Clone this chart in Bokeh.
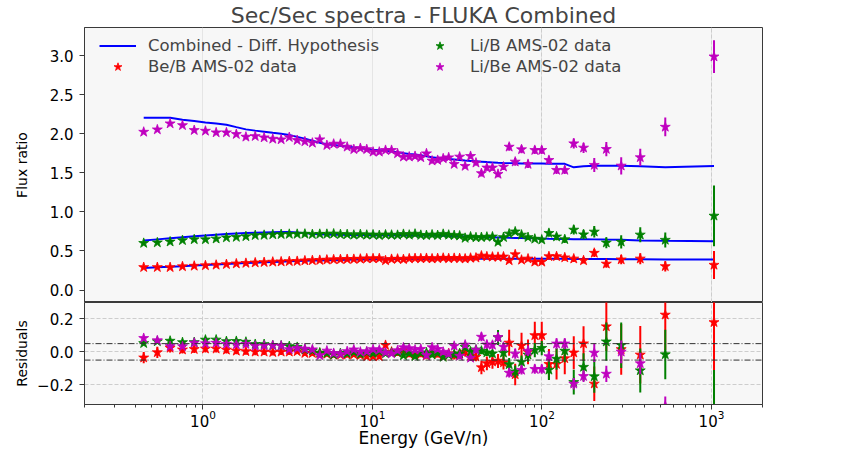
import numpy as np
from bokeh.plotting import figure
from bokeh.models import ColumnDataSource, Legend, LegendItem, FixedTicker, Span, Range1d, Grid
from bokeh.layouts import column
from bokeh.embed import file_html
from bokeh.resources import INLINE

FONT = "DejaVu Sans"

# ---------------- data ----------------
energy = [0.447, 0.538, 0.640, 0.757, 0.888, 1.034, 1.196, 1.375, 1.573, 1.792,
          2.033, 2.295, 2.581, 2.892, 3.230, 3.596, 3.993, 4.420, 4.888, 5.383,
          5.902, 6.471, 7.091, 7.762, 8.482, 9.253, 10.08, 10.97, 11.94, 12.96,
          14.06, 15.23, 16.48, 17.83, 19.28, 20.82, 22.47, 24.24, 26.14, 28.16,
          30.34, 32.68, 35.21, 37.90, 40.80, 43.92, 47.30, 51.04, 55.04, 59.29,
          64.03, 69.51, 75.76, 82.74, 90.72, 99.71, 109.9, 121.9, 136.3, 154.0,
          175.9, 203.5, 239.7, 293.4, 380.1, 533.9, 1035.0]

beb_data = [0.291, 0.291, 0.290, 0.301, 0.308, 0.314, 0.321, 0.329, 0.337, 0.344,
            0.350, 0.355, 0.360, 0.363, 0.367, 0.369, 0.376, 0.379, 0.382, 0.386,
            0.390, 0.392, 0.394, 0.395, 0.398, 0.402, 0.403, 0.404, 0.378, 0.395,
            0.398, 0.392, 0.402, 0.405, 0.403, 0.407, 0.401, 0.405, 0.410, 0.404,
            0.408, 0.405, 0.400, 0.410, 0.412, 0.438, 0.428, 0.424, 0.422, 0.426,
            0.378, 0.455, 0.385, 0.400, 0.360, 0.360, 0.430, 0.430, 0.415, 0.400,
            0.378, 0.474, 0.335, 0.389, 0.400, 0.303, 0.320]
beb_err = [0.010, 0.010, 0.008, 0.007, 0.007, 0.007, 0.007, 0.007, 0.007, 0.007,
           0.007, 0.007, 0.007, 0.007, 0.007, 0.006, 0.006, 0.006, 0.006, 0.006,
           0.006, 0.006, 0.006, 0.006, 0.006, 0.006, 0.006, 0.006, 0.006, 0.006,
           0.008, 0.008, 0.008, 0.008, 0.008, 0.008, 0.008, 0.008, 0.008, 0.008,
           0.011, 0.011, 0.011, 0.011, 0.011, 0.018, 0.018, 0.018, 0.018, 0.018,
           0.030, 0.030, 0.030, 0.030, 0.030, 0.030, 0.040, 0.040, 0.040, 0.040,
           0.040, 0.050, 0.050, 0.060, 0.070, 0.065, 0.180]
beb_model = [0.281, 0.290, 0.297, 0.305, 0.313, 0.320, 0.327, 0.333, 0.339, 0.345,
             0.350, 0.355, 0.359, 0.363, 0.367, 0.370, 0.373, 0.376, 0.379, 0.381,
             0.383, 0.385, 0.387, 0.389, 0.390, 0.391, 0.392, 0.393, 0.394, 0.395,
             0.396, 0.396, 0.397, 0.397, 0.398, 0.398, 0.399, 0.399, 0.400, 0.400,
             0.400, 0.400, 0.400, 0.400, 0.400, 0.400, 0.400, 0.400, 0.400, 0.400,
             0.400, 0.400, 0.400, 0.400, 0.400, 0.400, 0.400, 0.400, 0.399, 0.398,
             0.398, 0.397, 0.396, 0.395, 0.393, 0.391, 0.390]

lib_data = [0.600, 0.607, 0.618, 0.636, 0.647, 0.647, 0.656, 0.671, 0.677, 0.686,
            0.700, 0.703, 0.710, 0.713, 0.716, 0.716, 0.718, 0.713, 0.716, 0.716,
            0.720, 0.712, 0.712, 0.705, 0.712, 0.705, 0.708, 0.700, 0.708, 0.705,
            0.703, 0.715, 0.705, 0.718, 0.703, 0.700, 0.708, 0.700, 0.716, 0.705,
            0.700, 0.695, 0.665, 0.682, 0.672, 0.675, 0.680, 0.682, 0.614, 0.675,
            0.720, 0.747, 0.706, 0.675, 0.654, 0.643, 0.728, 0.682, 0.648, 0.770,
            0.710, 0.745, 0.605, 0.616, 0.707, 0.640, 0.949]
lib_err = [0.008, 0.008, 0.008, 0.008, 0.008, 0.008, 0.008, 0.008, 0.008, 0.008,
           0.008, 0.008, 0.008, 0.008, 0.008, 0.008, 0.008, 0.008, 0.008, 0.008,
           0.009, 0.009, 0.009, 0.009, 0.009, 0.009, 0.009, 0.009, 0.009, 0.009,
           0.009, 0.009, 0.009, 0.009, 0.009, 0.009, 0.009, 0.009, 0.009, 0.009,
           0.014, 0.014, 0.014, 0.014, 0.014, 0.014, 0.014, 0.014, 0.028, 0.028,
           0.028, 0.028, 0.028, 0.028, 0.028, 0.028, 0.045, 0.045, 0.045, 0.058,
           0.060, 0.074, 0.070, 0.085, 0.095, 0.096, 0.390]
lib_model = [0.633, 0.648, 0.662, 0.675, 0.687, 0.698, 0.708, 0.717, 0.724, 0.730,
             0.734, 0.737, 0.739, 0.741, 0.741, 0.737, 0.728, 0.718, 0.712, 0.710,
             0.708, 0.706, 0.705, 0.704, 0.703, 0.703, 0.702, 0.702, 0.701, 0.701,
             0.700, 0.700, 0.699, 0.699, 0.698, 0.697, 0.696, 0.695, 0.694, 0.692,
             0.690, 0.688, 0.685, 0.683, 0.681, 0.679, 0.677, 0.675, 0.673, 0.671,
             0.669, 0.667, 0.665, 0.663, 0.661, 0.658, 0.656, 0.654, 0.652, 0.650,
             0.650, 0.648, 0.645, 0.642, 0.635, 0.630, 0.624]

libe_data = [2.023, 2.053, 2.130, 2.108, 2.045, 2.036, 2.015, 2.015, 1.994, 1.960,
             1.968, 1.951, 1.934, 1.926, 1.955, 1.917, 1.900, 1.883, 1.926, 1.853,
             1.870, 1.870, 1.832, 1.800, 1.815, 1.800, 1.768, 1.768, 1.790, 1.790,
             1.747, 1.705, 1.705, 1.713, 1.696, 1.747, 1.654, 1.662, 1.683, 1.696,
             1.611, 1.705, 1.586, 1.713, 1.628, 1.493, 1.565, 1.565, 1.484, 1.577,
             1.832, 1.641, 1.799, 1.611, 1.790, 1.790, 1.662, 1.535, 1.535, 1.875,
             1.820, 1.599, 1.803, 1.590, 1.697, 2.087, 2.987]
libe_err = [0.025, 0.025, 0.025, 0.025, 0.025, 0.025, 0.025, 0.025, 0.025, 0.025,
            0.025, 0.025, 0.025, 0.025, 0.025, 0.025, 0.025, 0.025, 0.025, 0.025,
            0.025, 0.025, 0.025, 0.025, 0.025, 0.025, 0.025, 0.025, 0.025, 0.025,
            0.030, 0.030, 0.030, 0.030, 0.030, 0.030, 0.030, 0.030, 0.030, 0.030,
            0.030, 0.030, 0.030, 0.030, 0.030, 0.040, 0.040, 0.040, 0.040, 0.040,
            0.050, 0.050, 0.050, 0.050, 0.050, 0.050, 0.050, 0.050, 0.050, 0.065,
            0.065, 0.090, 0.090, 0.110, 0.110, 0.120, 0.210]
libe_model = [2.206, 2.206, 2.204, 2.180, 2.163, 2.145, 2.130, 2.115, 2.085, 2.056,
              2.040, 2.027, 2.012, 2.000, 1.985, 1.960, 1.935, 1.910, 1.885, 1.865,
              1.855, 1.845, 1.838, 1.825, 1.815, 1.805, 1.795, 1.790, 1.782, 1.772,
              1.762, 1.752, 1.742, 1.735, 1.725, 1.712, 1.700, 1.690, 1.682, 1.676,
              1.670, 1.663, 1.657, 1.652, 1.647, 1.642, 1.637, 1.633, 1.629, 1.626,
              1.624, 1.622, 1.620, 1.620, 1.620, 1.620, 1.617, 1.615, 1.615, 1.570,
              1.585, 1.590, 1.590, 1.590, 1.585, 1.570, 1.586]

x_ticks = [1, 10, 100, 1000]
main_y_ticks = [0.0, 0.5, 1.0, 1.5, 2.0, 2.5, 3.0]
main_y_labels = ["0.0", "0.5", "1.0", "1.5", "2.0", "2.5", "3.0"]
res_y_ticks = [-0.2, 0.0, 0.2]
res_y_labels = ["\u22120.2", "0.0", "0.2"]
res_band = [-0.05, 0.05]
main_grid_x = [100, 1000]

title_text = "Sec/Sec spectra - FLUKA Combined"
model_label = "Combined - Diff. Hypothesis"
series = [
    ("Be/B AMS-02 data", beb_data, beb_err, beb_model, "#ff0000"),
    ("Li/B AMS-02 data", lib_data, lib_err, lib_model, "#008000"),
    ("Li/Be AMS-02 data", libe_data, libe_err, libe_model, "#bf00bf"),
]

# ---------------- style helpers ----------------
AX = "#3a3a3a"
BG = "#f7f7f7"
GRID = "#cdcdcd"


def style_fig(p):
    p.background_fill_color = BG
    p.border_fill_color = "white"
    p.outline_line_color = AX
    p.outline_line_width = 1


def style_axis(ax, size="15px"):
    ax.axis_line_color = AX
    ax.major_tick_line_color = AX
    ax.minor_tick_line_color = AX
    ax.major_tick_out = 5
    ax.major_tick_in = 0
    ax.minor_tick_out = 3
    ax.minor_tick_in = 0
    ax.major_label_text_font = FONT
    ax.major_label_text_font_size = size
    ax.major_label_text_color = "black"
    ax.axis_label_text_font = FONT
    ax.axis_label_text_font_style = "normal"
    ax.axis_label_text_color = "black"


x_range = Range1d(0.2, 2000)

# ---------------- main panel ----------------
MAIN_H = 275
p1 = figure(frame_width=678, frame_height=MAIN_H, x_axis_type="log", x_axis_location=None,
            x_range=x_range, y_range=Range1d(-0.16, 3.36),
            min_border_left=84, min_border_right=84, min_border_bottom=0, min_border_top=0,
            output_backend="svg", toolbar_location=None, title=title_text)
style_fig(p1)
p1.title.text_font = FONT
p1.title.text_font_size = "22px"
p1.title.text_font_style = "normal"
p1.title.align = "center"
p1.title.standoff = 0

p1.ygrid.visible = False
p1.add_layout(Grid(dimension=0, ticker=FixedTicker(ticks=main_grid_x),
                   grid_line_color=GRID, grid_line_dash="4 2", grid_line_width=1))

yax = p1.yaxis[0]
style_axis(yax)
yax.ticker = FixedTicker(ticks=main_y_ticks)
yax.major_label_overrides = dict(zip(main_y_ticks, main_y_labels))
yax.minor_tick_line_color = None
yax.major_label_standoff = 6
yax.axis_label = "Flux ratio"
yax.axis_label_text_font_size = "14px"
yax.axis_label_standoff = 17

x = np.array(energy)
model_renderers = []
for name, d, e, m, c in series:
    r = p1.line(x, np.array(m), line_color="#0000ff", line_width=2)
    model_renderers.append(r)

star_renderers = []
for name, d, e, m, c in series:
    d = np.array(d)
    e = np.array(e)
    p1.segment(x0=x, y0=d - e, x1=x, y1=d + e, line_color=c, line_width=2)
    s = p1.scatter(x, d, marker="star", size=10.5, fill_color=c, line_color=c, line_width=0.8)
    star_renderers.append(s)

leg_common = dict(glyph_width=37, glyph_height=21, label_height=21, label_standoff=12,
                  padding=0, margin=0, spacing=0, border_line_alpha=0,
                  background_fill_alpha=0, label_text_font=FONT, label_text_font_size="16.5px")
leg_y = MAIN_H - 8 - 42
leg1 = Legend(items=[LegendItem(label=model_label, renderers=[model_renderers[0]]),
                     LegendItem(label=series[0][0], renderers=[star_renderers[0]])],
              location=(15, leg_y), **leg_common)
leg2 = Legend(items=[LegendItem(label=series[1][0], renderers=[star_renderers[1]]),
                     LegendItem(label=series[2][0], renderers=[star_renderers[2]])],
              location=(337, leg_y), **leg_common)
p1.add_layout(leg1)
p1.add_layout(leg2)

# ---------------- residual panel ----------------
p2 = figure(width=846, height=148, x_axis_type="log", x_range=x_range,
            y_range=Range1d(-0.32, 0.30),
            min_border_left=84, min_border_right=84, min_border_top=0, min_border_bottom=44,
            output_backend="svg", toolbar_location=None)
style_fig(p2)

xax = p2.xaxis[0]
style_axis(xax)
minor = [mm * 10.0 ** k for k in range(-1, 4) for mm in range(2, 10)]
xax.ticker = FixedTicker(ticks=x_ticks, minor_ticks=minor)
xax.major_label_standoff = 0
xax.axis_label = "Energy (GeV/n)"
xax.axis_label_text_font_size = "17px"
xax.axis_label_standoff = -2

ry = p2.yaxis[0]
style_axis(ry)
ry.ticker = FixedTicker(ticks=res_y_ticks)
ry.major_label_overrides = dict(zip(res_y_ticks, res_y_labels))
ry.minor_tick_line_color = None
ry.major_label_standoff = 6
ry.axis_label = "Residuals"
ry.axis_label_text_font_size = "14px"
ry.axis_label_standoff = 4

p2.xgrid.ticker = FixedTicker(ticks=x_ticks)
p2.ygrid.ticker = FixedTicker(ticks=res_y_ticks)
for g in (p2.xgrid[0], p2.ygrid[0]):
    g.grid_line_color = GRID
    g.grid_line_dash = "4 2"
    g.grid_line_width = 1

for v in res_band:
    p2.add_layout(Span(location=v, dimension="width", line_color="#303030",
                       line_dash="6 2 1 2", line_width=1))

for name, d, e, m, c in series:
    d = np.array(d)
    e = np.array(e)
    m = np.array(m)
    res = 1.0 - d / m
    res_err = e / d
    p2.segment(x0=x, y0=res - res_err, x1=x, y1=res + res_err, line_color=c, line_width=2)
    p2.scatter(x, res, marker="star", size=10.5, fill_color=c, line_color=c, line_width=0.8)

layout = column(p1, p2)
open("out.html", "w").write(file_html(layout, INLINE))
